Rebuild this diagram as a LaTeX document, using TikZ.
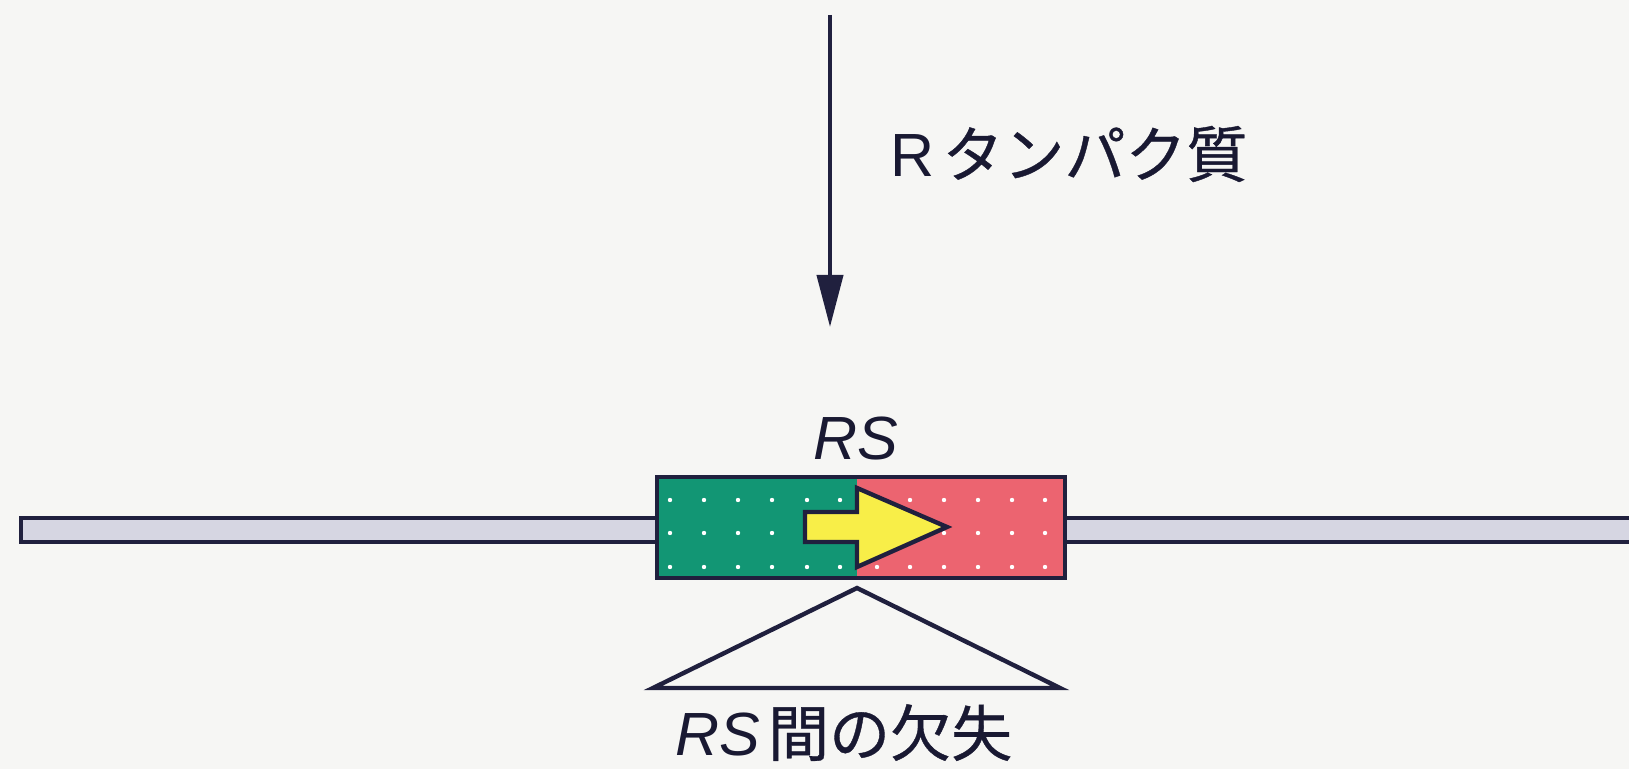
\documentclass[tikz,border=0pt]{standalone}
\usepackage{fontspec}
\setmainfont{Liberation Sans}
\newfontfamily\jp[FakeBold=0.6]{Noto Sans CJK JP}
\usetikzlibrary{arrows.meta}
\definecolor{paper}{RGB}{246,246,244}
\definecolor{ink}{RGB}{32,32,62}
\definecolor{segleft}{RGB}{18,150,116}
\definecolor{segright}{RGB}{236,100,112}
\definecolor{pointer}{RGB}{248,238,72}
\definecolor{dnafill}{RGB}{214,214,226}
\tikzset{
  outline/.style={draw=ink, line width=2.2pt},
  dnabar/.style={fill=dnafill, draw=ink, line width=1.6pt},
  speck/.style={fill=white, draw=none},
  label/.style={inner sep=0pt, font=\fontsize{30.5}{36}\selectfont, text=ink!80!black},
}
\begin{document}
\begin{tikzpicture}[x=0.5pt, y=-0.5pt]
  % canvas
  \fill[paper] (0,0) rectangle (1629,769);
  \useasboundingbox (0,0) rectangle (1629,769);

  % DNA strand on both sides of the RS element
  \draw[dnabar] (21,518) rectangle (657,542);
  \draw[dnabar] (1065,518) rectangle (1640,542);

  % RS element: two coloured halves
  \fill[segleft] (657,477) rectangle (857,578);
  \fill[segright] (857,477) rectangle (1065,578);
  \foreach \y in {500,533,567} {
    \foreach \x in {670,704,738,772,807,840,877,910,944,978,1012,1045}
      \fill[speck] (\x,\y) circle (2.2);
  }
  \node[outline, fill=none, minimum width=204pt, minimum height=50.5pt, inner sep=0pt]
    (rs) at (861,527.5) {};

  % orientation arrow inside the element
  \draw[outline, fill=pointer, line join=miter]
    (805,512) -- (857,512) -- (857,488) -- (947,527) -- (857,567)
    -- (857,542) -- (805,542) -- cycle;

  % R protein acting on the element
  \coordinate (rtop) at (830,15);
  \coordinate (rend) at (830,327);
  \draw[ink, line width=2pt, -{Triangle[length=26pt,width=13pt]}] (rtop) -- (rend);
  \node[label, anchor=base west] (rprot) at (890,177) {R\hspace{4pt}{\jp タンパク質}};

  % element name
  \node[label, anchor=base west] (rsname) at (813,460) {\itshape RS};

  % deletion between the RS sites
  \coordinate (apex) at (857,588);
  \coordinate (bl) at (653,688);
  \coordinate (br) at (1060,688);
  \draw[outline, line join=miter] (apex) -- (br) -- (bl) -- cycle;
  \node[label, anchor=base west] (del) at (675,756) {{\itshape RS}\hspace{4pt}{\jp 間の欠失}};
\end{tikzpicture}
\end{document}
